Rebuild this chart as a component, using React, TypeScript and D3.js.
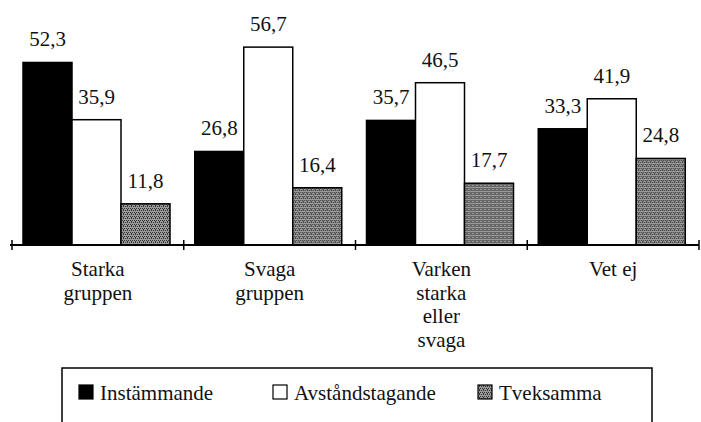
import React, { useRef, useEffect } from "react";
import * as d3 from "d3";

const categories = ["Starka gruppen", "Svaga gruppen", "Varken starka eller svaga", "Vet ej"];
const categoryLines = [["Starka", "gruppen"], ["Svaga", "gruppen"], ["Varken", "starka", "eller", "svaga"], ["Vet ej"]];
const series = ["Instämmande", "Avståndstagande", "Tveksamma"];
const instammande = [52.3, 26.8, 35.7, 33.3];
const avstandstagande = [35.9, 56.7, 46.5, 41.9];
const tveksamma = [11.8, 16.4, 17.7, 24.8];

const FONT = "Liberation Serif, Times New Roman, DejaVu Serif, serif";

export default function App() {
  const svgRef = useRef<SVGSVGElement>(null);

  useEffect(() => {
    const svg = d3.select(svgRef.current);
    svg.selectAll("*").remove();

    const values = [instammande, avstandstagande, tveksamma];
    const fills = ["#000", "#fff", "url(#stipple)"];

    // stippled grey like the print
    const pat = svg.append("defs").append("pattern")
      .attr("id", "stipple").attr("patternUnits", "userSpaceOnUse")
      .attr("width", 4).attr("height", 4);
    pat.append("rect").attr("width", 4).attr("height", 4).attr("fill", "#9a9a9a");
    [[0, 0], [2, 0], [1, 2], [3, 2], [3, 1]].forEach(([px, py]) => {
      pat.append("rect").attr("x", px).attr("y", py).attr("width", 1).attr("height", 1).attr("fill", "#333");
    });

    const x0 = d3.scaleBand().domain(categories).range([12, 699]).padding(0);
    const x1 = d3.scaleBand().domain(series).range([11, 158]).padding(0);
    const y = d3.scaleLinear().domain([0, 60]).range([245, 35.6]);

    const groups = svg.selectAll(".grp")
      .data(categories)
      .join("g")
      .attr("class", "grp")
      .attr("transform", (c) => `translate(${x0(c)},0)`);

    series.forEach((s, si) => {
      groups.append("rect")
        .attr("x", x1(s)!)
        .attr("y", (_c, i) => y(values[si][i]))
        .attr("width", x1.bandwidth())
        .attr("height", (_c, i) => y(0) - y(values[si][i]))
        .attr("fill", fills[si])
        .attr("stroke", "#000")
        .attr("stroke-width", 1.5);

      groups.append("text")
        .attr("x", x1(s)! + x1.bandwidth() / 2)
        .attr("y", (_c, i) => y(values[si][i]) - 16)
        .attr("text-anchor", "middle")
        .attr("font-family", FONT)
        .attr("font-size", 21)
        .attr("fill", "#111")
        .text((_c, i) => values[si][i].toFixed(1).replace(".", ","));
    });

    // axis line with ticks at group edges
    svg.append("line")
      .attr("x1", 10).attr("x2", 699)
      .attr("y1", y(0)).attr("y2", y(0))
      .attr("stroke", "#000").attr("stroke-width", 2);
    const edges = categories.map((c) => x0(c)!).concat([x0.range()[1]]);
    svg.selectAll(".tick")
      .data(edges)
      .join("line")
      .attr("class", "tick")
      .attr("x1", (d) => d).attr("x2", (d) => d)
      .attr("y1", y(0) - 5).attr("y2", y(0) + 5)
      .attr("stroke", "#000").attr("stroke-width", 1.5);

    // category labels
    groups.append("text")
      .attr("text-anchor", "middle")
      .attr("font-family", FONT)
      .attr("font-size", 21)
      .attr("fill", "#111")
      .selectAll("tspan")
      .data((_c, i) => categoryLines[i])
      .join("tspan")
      .attr("x", x0.bandwidth() / 2)
      .attr("y", (_l, j) => 276 + j * 23.5)
      .text((l) => l);

    // legend box
    const leg = svg.append("g");
    leg.append("rect")
      .attr("x", 62).attr("y", 368).attr("width", 590).attr("height", 80)
      .attr("fill", "none").attr("stroke", "#000").attr("stroke-width", 1.5);
    const legX = d3.scaleOrdinal<string, number>().domain(series).range([79, 273, 478]);
    series.forEach((s, si) => {
      leg.append("rect")
        .attr("x", legX(s)).attr("y", 385).attr("width", 14).attr("height", 14)
        .attr("fill", fills[si]).attr("stroke", "#000").attr("stroke-width", 1.2);
      leg.append("text")
        .attr("x", legX(s) + 21).attr("y", 400)
        .attr("font-family", FONT)
        .attr("font-size", 21)
        .attr("fill", "#111")
        .text(s);
    });
  }, []);

  return (
    <svg
      ref={svgRef}
      width={701}
      height={422}
      style={{ position: "absolute", left: 0, top: 0, background: "#fff" }}
    />
  );
}
